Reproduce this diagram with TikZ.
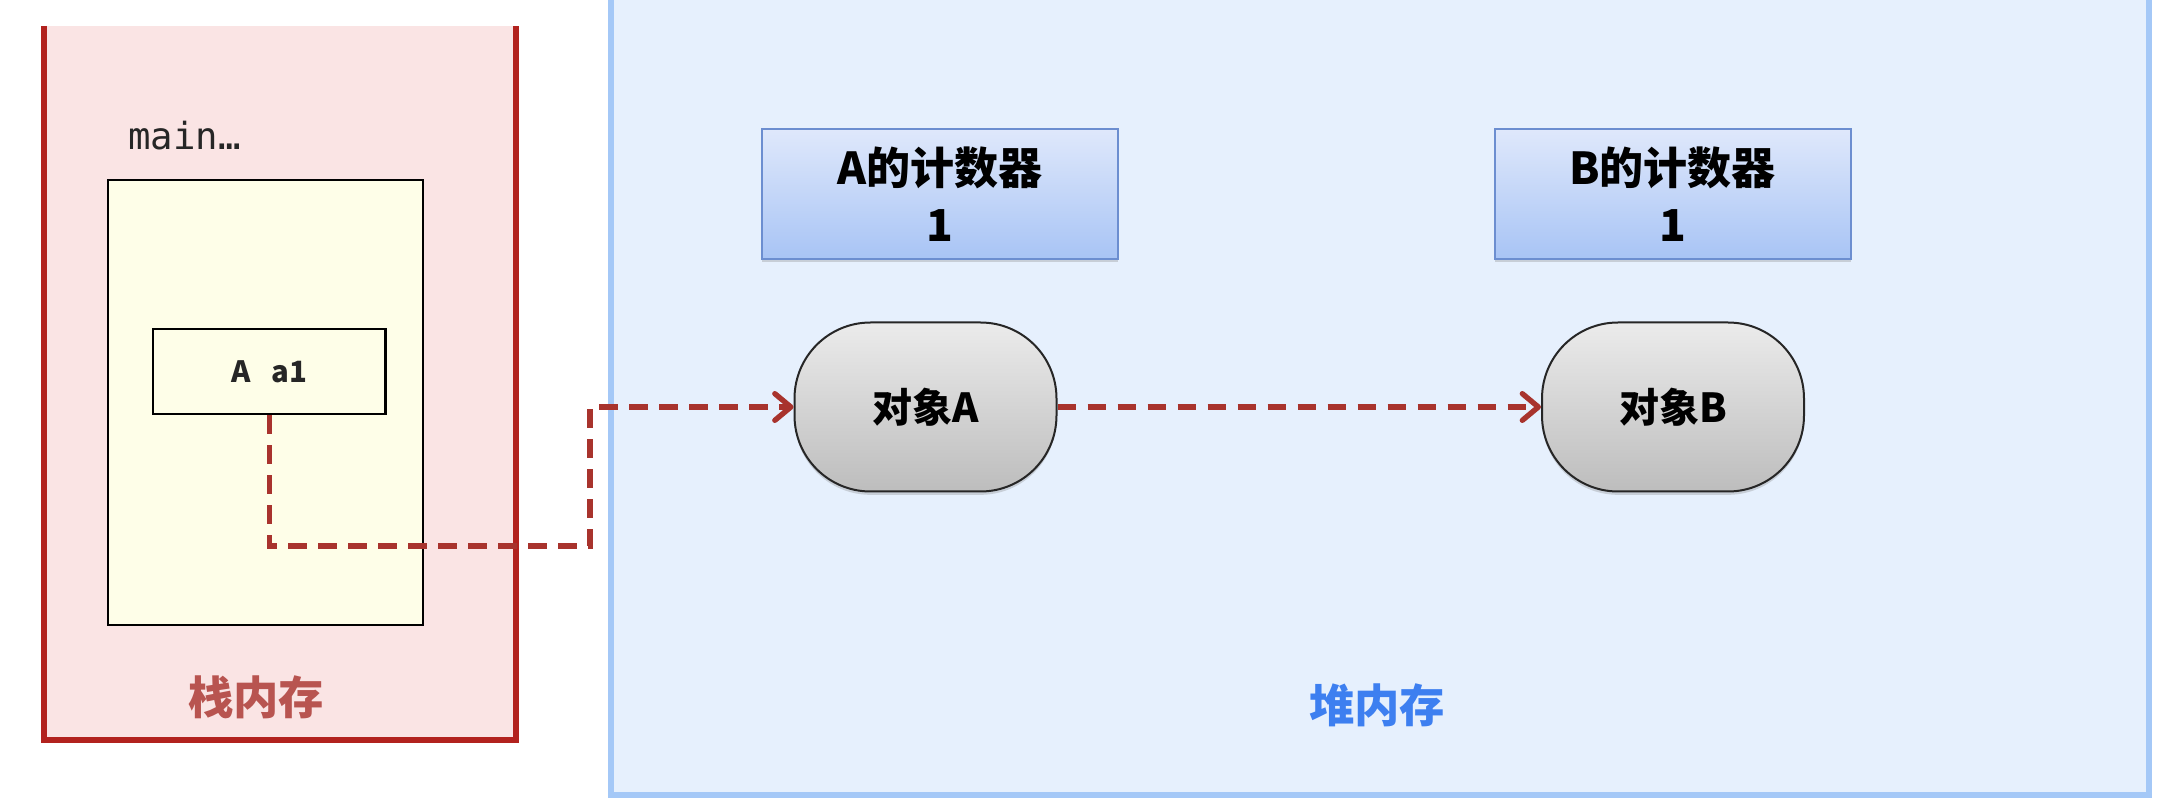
\documentclass[tikz,border=0pt]{standalone}
\usepackage{fontspec}
\newfontfamily\cjk{Noto Sans CJK SC}
\newfontfamily\codefont{DejaVu Sans Mono}
\usetikzlibrary{arrows.meta,shadows}

\definecolor{stackline}{HTML}{B2221E}
\definecolor{stackfill}{HTML}{FAE4E4}
\definecolor{stacktext}{HTML}{B85450}
\definecolor{framefill}{HTML}{FEFEE8}
\definecolor{heapline}{HTML}{A4C8F7}
\definecolor{heapfill}{HTML}{E6F0FD}
\definecolor{heaptext}{HTML}{3D7FF0}
\definecolor{cnttop}{HTML}{DFE8FB}
\definecolor{cntbottom}{HTML}{A8C4F5}
\definecolor{cntline}{HTML}{6C8ED0}
\definecolor{objtop}{HTML}{EBEBEB}
\definecolor{objbottom}{HTML}{BDBDBD}
\definecolor{refline}{HTML}{A8332D}

\tikzset{every picture/.style={line width=0.75pt}}
\tikzset{
  counter/.style={draw=cntline, line width=1.5pt, top color=cnttop, bottom color=cntbottom,
    minimum width=267pt, minimum height=97.5pt, inner sep=0pt, align=center,
    font=\cjk\bfseries\fontsize{33}{43}\selectfont,
    drop shadow={shadow xshift=0pt, shadow yshift=-2.5pt, opacity=0.3}},
  object/.style={draw=black!85, line width=1.5pt, rounded corners=57pt, top color=objtop, bottom color=objbottom,
    minimum width=196.5pt, minimum height=126.75pt, inner sep=0pt,
    font=\cjk\bfseries\fontsize{30}{36}\selectfont,
    drop shadow={shadow xshift=0pt, shadow yshift=-2.5pt, opacity=0.3}},
  ref/.style={draw=refline, line width=4pt, dash pattern=on 14pt off 8.5pt,
    -{Straight Barb[length=12pt,width=20pt,round]}},
  memlabel/.style={inner sep=0pt, font=\cjk\bfseries\fontsize{34}{40}\selectfont}
}

\begin{document}
\begin{tikzpicture}[x=0.75pt,y=0.75pt,yscale=-1,xscale=1]
		\useasboundingbox (0,0) rectangle (2168,812);
		
		%Shape: Heap area
		\draw [draw=heapline, fill=heapfill, line width=4.5pt] (611,-20) rectangle (2149,795) ;
		%Shape: Stack area
		\fill [stackfill] (44,26) rectangle (516,740) ;
		\draw [stackline, line width=4pt] (44,26) -- (44,740) -- (516,740) -- (516,26) ;
		
		% Text Node
		\node [anchor=west, inner sep=0pt, text=black!85] (mainlbl) at (128,136) {\codefont\fontsize{28}{32}\selectfont main…};
		%Shape: Frame
		\node [draw=black, fill=framefill, line width=1.5pt, minimum width=236.6pt, minimum height=333.75pt] (frame) at (265.25,402.5) {};
		%Shape: Variable
		\node [draw=black, line width=1.7pt, minimum width=174.4pt, minimum height=63.75pt, inner sep=0pt,
		  font=\cjk\bfseries\fontsize{22}{26}\selectfont, text=black!85] (var) at (269.25,371.5) {A\hspace{0.7em}a1};
		
		% Text Node
		\node [memlabel, text=stacktext] (stacklbl) at (256,697) {栈内存};
		% Text Node
		\node [memlabel, text=heaptext] (heaplbl) at (1377,705) {堆内存};
		
		%Counters
		\node [counter] (cntA) at (940,194) {A的计数器\\1};
		\node [counter] (cntB) at (1672.5,194) {B的计数器\\1};
		
		%Objects
		\node [object] (objA) at (925.5,407) {对象A};
		\node [object] (objB) at (1673,407) {对象B};
		
		%References
		\coordinate (bend) at (590,546);
		\draw [ref] (var.south) |- (bend) |- (objA.west) ;
		\draw [ref] (objA.east) -- (objB.west) ;
	\end{tikzpicture}
\end{document}
